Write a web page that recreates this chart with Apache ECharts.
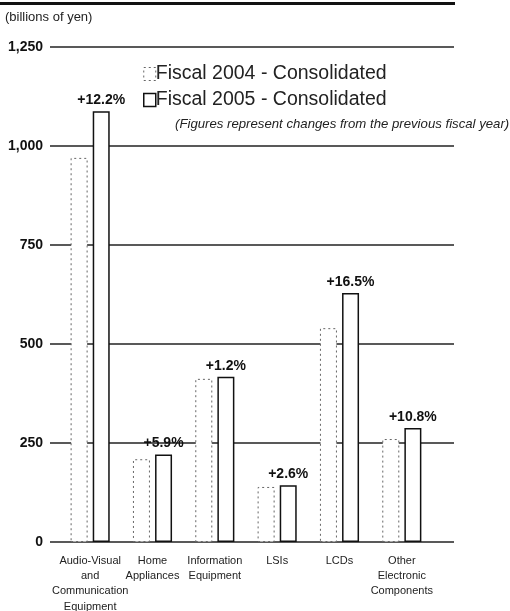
<!DOCTYPE html>
<html>
<head>
<meta charset="utf-8">
<script src="https://cdn.jsdelivr.net/npm/echarts@6/dist/echarts.min.js"></script>
<style>
  html, body { margin: 0; padding: 0; background: #fff; }
  #chart { width: 510px; height: 611px; }
</style>
</head>
<body>
<div id="chart"></div>
<script>
// Net sales by product group (billions of yen)
const categories = [
  'Audio-Visual\nand\nCommunication\nEquipment',
  'Home\nAppliances',
  'Information\nEquipment',
  'LSIs',
  'LCDs',
  'Other\nElectronic\nComponents'
];
const fiscal2004 = [970, 209, 412, 139, 540, 260];
const fiscal2005 = [1088, 221, 417, 143, 629, 288];
const changeLabels = ['+12.2%', '+5.9%', '+1.2%', '+2.6%', '+16.5%', '+10.8%'];
const seriesNames = ['Fiscal 2004 - Consolidated', 'Fiscal 2005 - Consolidated'];
const yMin = 0, yMax = 1250, yStep = 250;

const FONT = '"Liberation Sans", Arial, Helvetica, sans-serif';

const chart = echarts.init(document.getElementById('chart'), null, { renderer: 'canvas' });

const style2004 = { color: '#fff', borderColor: '#666', borderWidth: 1, borderType: [2, 3] };
const style2005 = { color: '#fff', borderColor: '#111', borderWidth: 1.5, borderType: 'solid' };

chart.setOption({
  animation: false,
  backgroundColor: '#fff',
  textStyle: { fontFamily: FONT },
  grid: [
    // full-width grid carrying the horizontal rules and value labels
    { left: 50, right: 56, top: 47, bottom: 69, outerBoundsMode: 'none', containLabel: false },
    // inner grid for the bar groups
    { left: 59, right: 77, top: 47, bottom: 69, outerBoundsMode: 'none', containLabel: false }
  ],
  xAxis: [
    { gridIndex: 0, type: 'value', show: false, min: 0, max: 1 },
    {
      gridIndex: 1, type: 'category', data: categories,
      axisLine: { show: false }, axisTick: { show: false },
      axisLabel: { interval: 0, fontSize: 11, lineHeight: 15.3, margin: 11, color: '#222', fontFamily: FONT }
    }
  ],
  yAxis: [
    {
      gridIndex: 0, type: 'value', min: yMin, max: yMax, interval: yStep,
      axisLine: { show: false }, axisTick: { show: false },
      axisLabel: { fontSize: 14, fontWeight: 'bold', color: '#111', margin: 7, fontFamily: FONT },
      splitLine: { lineStyle: { color: '#222', width: 1.5 } }
    },
    { gridIndex: 1, type: 'value', min: yMin, max: yMax, interval: yStep, show: false, splitLine: { show: false } }
  ],
  legend: {
    orient: 'vertical', left: 143, top: 64, padding: 0, itemWidth: 12, itemHeight: 13, itemGap: 6,
    icon: 'rect', selectedMode: false,
    textStyle: { fontSize: 19.5, color: '#222', fontFamily: FONT, padding: [0, 0, 0, -5] },
    data: [
      { name: seriesNames[0], itemStyle: style2004 },
      { name: seriesNames[1], itemStyle: style2005 }
    ]
  },
  graphic: [
    { type: 'rect', left: 0, top: 2, shape: { width: 455, height: 3 }, style: { fill: '#111' } },
    { type: 'text', left: 5, top: 11, style: { text: '(billions of yen)', font: '13px ' + FONT, fill: '#222' } },
    { type: 'text', left: 175, top: 118, style: { text: '(Figures represent changes from the previous fiscal year)', font: 'italic 13.2px ' + FONT, fill: '#222' } }
  ],
  series: [
    {
      name: seriesNames[0], type: 'bar', xAxisIndex: 1, yAxisIndex: 1,
      data: fiscal2004, barWidth: 17, barGap: '30%',
      itemStyle: style2004
    },
    {
      name: seriesNames[1], type: 'bar', xAxisIndex: 1, yAxisIndex: 1,
      data: fiscal2005, barWidth: 17,
      itemStyle: style2005,
      label: {
        show: true, position: 'top', distance: 4,
        formatter: p => changeLabels[p.dataIndex],
        fontSize: 14, fontWeight: 'bold', color: '#111', fontFamily: FONT
      }
    }
  ]
});
</script>
</body>
</html>
